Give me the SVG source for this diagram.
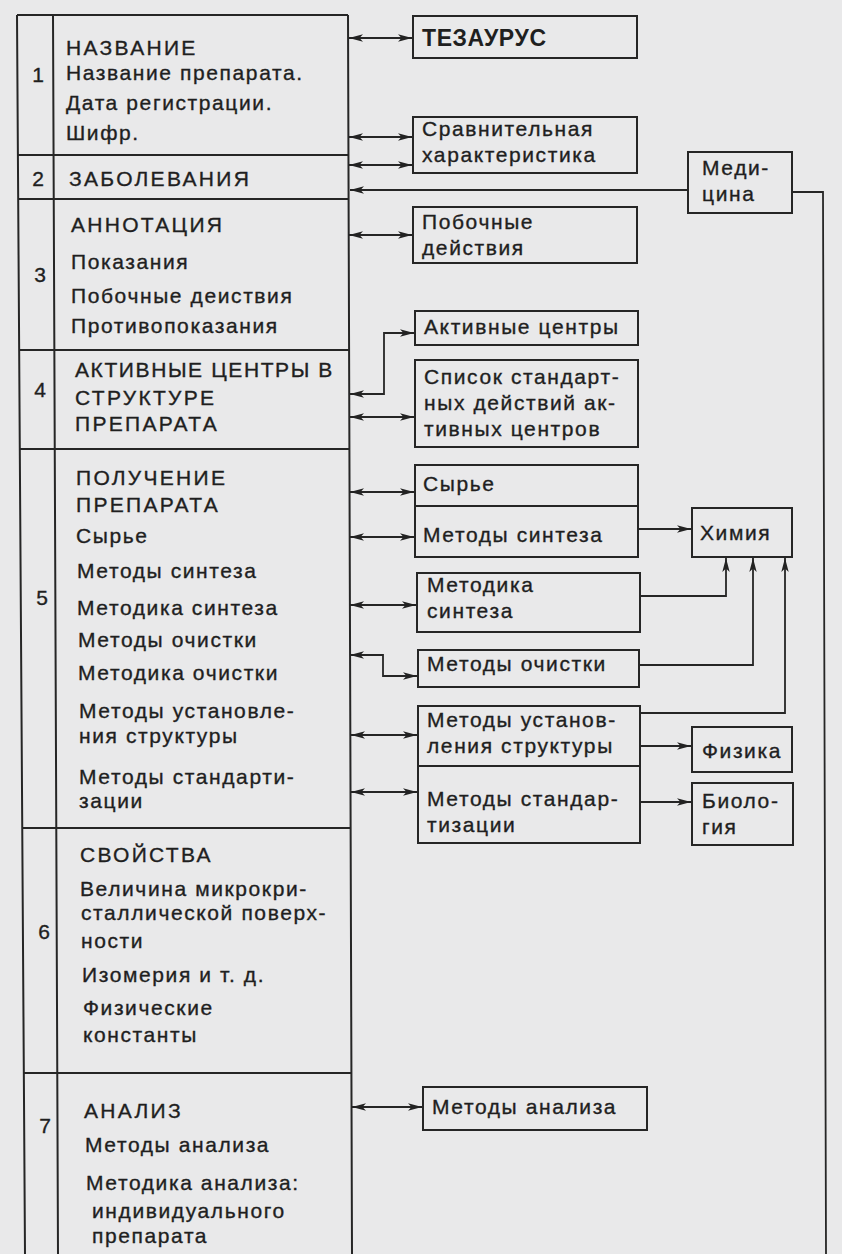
<svg xmlns="http://www.w3.org/2000/svg" width="842" height="1254" viewBox="0 0 842 1254">
<defs>
<style>
.t{font-family:"Liberation Sans","Arial",sans-serif;font-size:21px;letter-spacing:1.6px;fill:#1f1f1f;stroke:#1f1f1f;stroke-width:0.35px}
.c{letter-spacing:2.3px}
.n{font-family:"Liberation Sans","Arial",sans-serif;font-size:21px;fill:#1f1f1f;stroke:#1f1f1f;stroke-width:0.35px;text-anchor:middle}
.big{font-size:23px;font-weight:bold;letter-spacing:0.6px;stroke-width:0}
.box{fill:none;stroke:#262626;stroke-width:2}
.ln{fill:none;stroke:#262626;stroke-width:1.8}
.d{marker-start:url(#ah);marker-end:url(#ah)}
.e{marker-end:url(#ah)}
</style>
<marker id="ah" viewBox="0 0 14 9" refX="14" refY="4.5" markerWidth="14" markerHeight="9" markerUnits="userSpaceOnUse" orient="auto-start-reverse">
<path d="M0,0.8 L14,4.5 L0,8.2 L3.5,4.5 Z" fill="#222"/>
</marker>
</defs>
<rect width="842" height="1254" fill="#e9e9ea"/>

<g id="table">
<path class="box" d="M17,15 L348,15 M17,15 L25,1254 M53,15 L58,1254 M348,15 L352,1254"/>
<path class="box" d="M17,155 L349,155 M18,199 L349,199 M19,350 L349,350 M20,449 L350,449 M22,828 L351,828 M23,1073 L352,1073"/>
</g>

<g id="row1">
<text class="n" x="38" y="82">1</text>
<text class="t c" x="66" y="55">НАЗВАНИЕ</text>
<text class="t" x="66" y="80">Название препарата.</text>
<text class="t" x="66" y="110">Дата регистрации.</text>
<text class="t" x="66" y="140">Шифр.</text>
</g>
<g id="row2">
<text class="n" x="38" y="186">2</text>
<text class="t c" x="69" y="186">ЗАБОЛЕВАНИЯ</text>
</g>
<g id="row3">
<text class="n" x="40" y="282">3</text>
<text class="t c" x="71" y="232">АННОТАЦИЯ</text>
<text class="t" x="71" y="269">Показания</text>
<text class="t" x="71" y="303">Побочные деиствия</text>
<text class="t" x="71" y="333">Противопоказания</text>
</g>
<g id="row4">
<text class="n" x="40" y="397">4</text>
<text class="t c" x="75" y="377" style="letter-spacing:1.6px">АКТИВНЫЕ ЦЕНТРЫ В</text>
<text class="t c" x="75" y="405">СТРУКТУРЕ</text>
<text class="t c" x="75" y="431">ПРЕПАРАТА</text>
</g>
<g id="row5">
<text class="n" x="42" y="605">5</text>
<text class="t c" x="76" y="485">ПОЛУЧЕНИЕ</text>
<text class="t c" x="76" y="512">ПРЕПАРАТА</text>
<text class="t" x="76" y="543">Сырье</text>
<text class="t" x="77" y="578">Методы синтеза</text>
<text class="t" x="77" y="615">Методика синтеза</text>
<text class="t" x="78" y="647">Методы очистки</text>
<text class="t" x="78" y="680">Методика очистки</text>
<text class="t" x="79" y="718">Методы установле-</text>
<text class="t" x="79" y="743">ния структуры</text>
<text class="t" x="79" y="784">Методы стандарти-</text>
<text class="t" x="79" y="808">зации</text>
</g>
<g id="row6">
<text class="n" x="44" y="939">6</text>
<text class="t c" x="80" y="862">СВОЙСТВА</text>
<text class="t" x="80" y="896">Величина микрокри-</text>
<text class="t" x="81" y="920">сталлической поверх-</text>
<text class="t" x="81" y="948">ности</text>
<text class="t" x="82" y="982">Изомерия и т. д.</text>
<text class="t" x="83" y="1015">Физические</text>
<text class="t" x="83" y="1042">константы</text>
</g>
<g id="row7">
<text class="n" x="45" y="1133">7</text>
<text class="t c" x="84" y="1118">АНАЛИЗ</text>
<text class="t" x="85" y="1152">Методы анализа</text>
<text class="t" x="86" y="1190">Методика анализа:</text>
<text class="t" x="92" y="1218">индивидуального</text>
<text class="t" x="92" y="1243">препарата</text>
</g>

<g id="tezaurus">
<rect class="box" x="413" y="16" width="224" height="42"/>
<text class="t big" x="422" y="46">ТЕЗАУРУС</text>
</g>
<g id="sravn">
<rect class="box" x="413" y="117" width="224" height="56"/>
<text class="t" x="422" y="136">Сравнительная</text>
<text class="t" x="422" y="162">характеристика</text>
</g>
<g id="medicina">
<rect class="box" x="688" y="152" width="104" height="61"/>
<text class="t" x="702" y="175">Меди-</text>
<text class="t" x="702" y="201">цина</text>
</g>
<g id="pobochnye">
<rect class="box" x="413" y="207" width="224" height="56"/>
<text class="t" x="422" y="229">Побочные</text>
<text class="t" x="422" y="255">действия</text>
</g>
<g id="aktivnye">
<rect class="box" x="415" y="311" width="223" height="34"/>
<text class="t" x="424" y="334">Активные центры</text>
</g>
<g id="spisok">
<rect class="box" x="415" y="360" width="223" height="87"/>
<text class="t" x="424" y="384">Список стандарт-</text>
<text class="t" x="424" y="410">ных действий ак-</text>
<text class="t" x="424" y="436">тивных центров</text>
</g>
<g id="syrie-sintez">
<rect class="box" x="415" y="465" width="223" height="92"/>
<line class="box" x1="415" y1="506" x2="638" y2="506"/>
<text class="t" x="423" y="491">Сырье</text>
<text class="t" x="423" y="542">Методы синтеза</text>
</g>
<g id="himiya">
<rect class="box" x="692" y="508" width="100" height="49"/>
<text class="t" x="700" y="540">Химия</text>
</g>
<g id="metodika-sinteza">
<rect class="box" x="417" y="573" width="223" height="59"/>
<text class="t" x="427" y="592">Методика</text>
<text class="t" x="427" y="618">синтеза</text>
</g>
<g id="ochistka">
<rect class="box" x="418" y="650" width="221" height="37"/>
<text class="t" x="427" y="671">Методы очистки</text>
</g>
<g id="ustanovl-standart">
<rect class="box" x="418" y="706" width="222" height="137"/>
<line class="box" x1="418" y1="766" x2="640" y2="766"/>
<text class="t" x="427" y="727">Методы установ-</text>
<text class="t" x="427" y="753">ления структуры</text>
<text class="t" x="427" y="806">Методы стандар-</text>
<text class="t" x="427" y="832">тизации</text>
</g>
<g id="fizika">
<rect class="box" x="692" y="727" width="100" height="45"/>
<text class="t" x="702" y="758">Физика</text>
</g>
<g id="biologiya">
<rect class="box" x="692" y="783" width="101" height="62"/>
<text class="t" x="702" y="808">Биоло-</text>
<text class="t" x="702" y="834">гия</text>
</g>
<g id="analiz">
<rect class="box" x="423" y="1087" width="224" height="43"/>
<text class="t" x="432" y="1114">Методы анализа</text>
</g>

<g id="connectors">
<path class="ln d" d="M349,38 L412,38"/>
<path class="ln d" d="M349,137 L412,137"/>
<path class="ln d" d="M349,165 L412,165"/>
<path class="ln e" d="M688,190 L350,190"/>
<path class="ln" d="M792,192 L823,192 L826,1254"/>
<path class="ln d" d="M349,235 L412,235"/>
<path class="ln d" d="M350,394 L384,394 L384,333 L414,333"/>
<path class="ln d" d="M350,417 L414,417"/>
<path class="ln d" d="M350,492 L414,492"/>
<path class="ln d" d="M350,537 L414,537"/>
<path class="ln d" d="M350,605 L416,605"/>
<path class="ln d" d="M350,655 L383,655 L383,676 L417,676"/>
<path class="ln d" d="M351,735 L417,735"/>
<path class="ln d" d="M351,792 L417,792"/>
<path class="ln d" d="M352,1107 L422,1107"/>
<path class="ln e" d="M638,529 L691,529"/>
<path class="ln e" d="M640,596 L726,596 L726,558"/>
<path class="ln e" d="M639,665 L753,665 L753,558"/>
<path class="ln e" d="M640,713 L785,713 L785,558"/>
<path class="ln e" d="M640,746 L691,746"/>
<path class="ln e" d="M640,802 L691,802"/>
</g>
</svg>
